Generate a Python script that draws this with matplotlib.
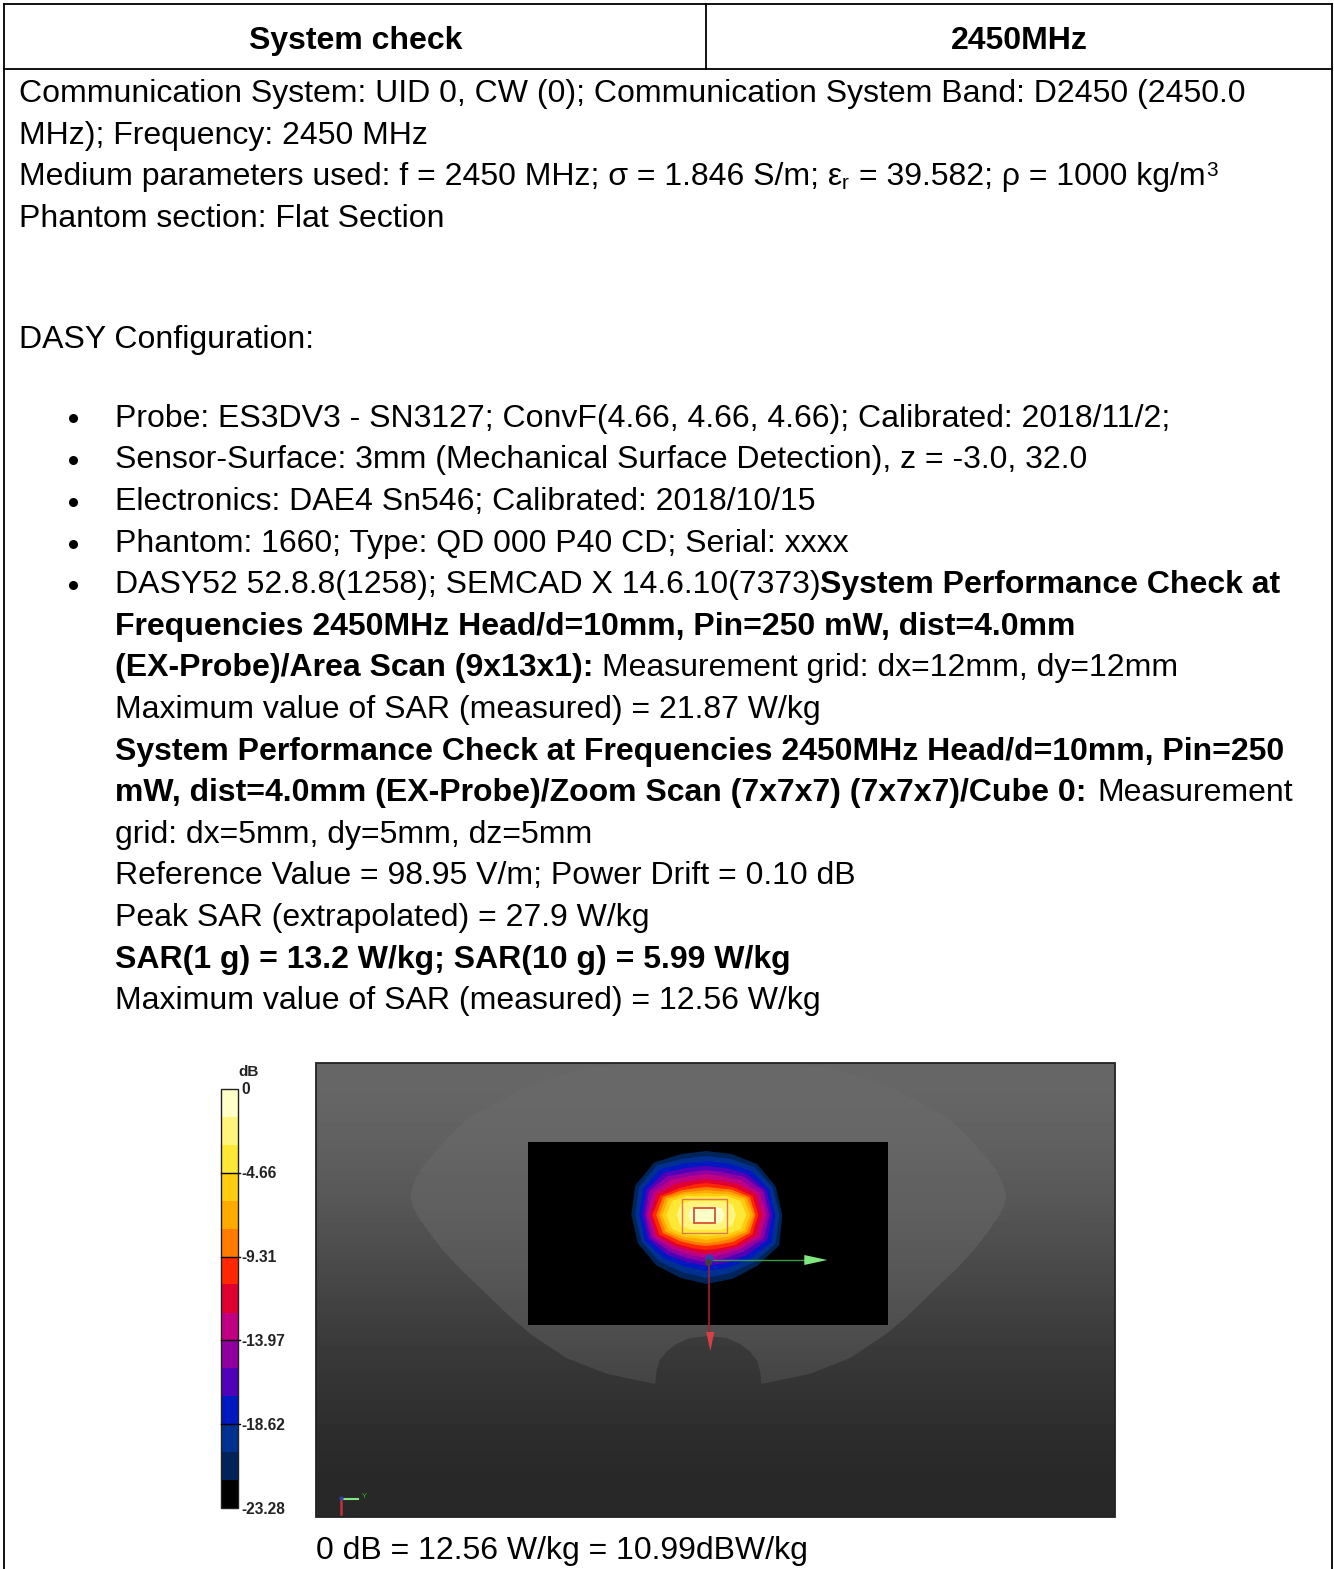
import matplotlib
matplotlib.use('Agg')
import matplotlib.pyplot as plt
import numpy as np
from matplotlib.patches import Polygon, Rectangle

W, H = 1334, 1569
FS = 23.05
plt.rcParams['font.family'] = ['Liberation Sans', 'DejaVu Sans']

# (text, x, baseline, bold)
header = [('System check', 355, 49), ('2450MHz', 1019, 49)]
body_lines = [
    ('Communication System: UID 0, CW (0); Communication System Band: D2450 (2450.0', 19, 102, False),
    ('MHz); Frequency: 2450 MHz', 19, 144, False),
    ('Medium parameters used: f = 2450 MHz; σ = 1.846 S/m; ε', 19, 185, False),
    ('= 39.582; ρ = 1000 kg/m', 859, 185, False),
    ('Phantom section: Flat Section', 19, 227, False),
    ('DASY Configuration:', 19, 348, False),
    ('Probe: ES3DV3 - SN3127; ConvF(4.66, 4.66, 4.66); Calibrated: 2018/11/2;', 115, 427, False),
    ('Sensor-Surface: 3mm (Mechanical Surface Detection), z = -3.0, 32.0', 115, 468, False),
    ('Electronics: DAE4 Sn546; Calibrated: 2018/10/15', 115, 510, False),
    ('Phantom: 1660; Type: QD 000 P40 CD; Serial: xxxx', 115, 552, False),
    ('DASY52 52.8.8(1258); SEMCAD X 14.6.10(7373)', 115, 593, False),
    ('System Performance Check at', 820, 593, True),
    ('Frequencies 2450MHz Head/d=10mm, Pin=250 mW, dist=4.0mm', 115, 635, True),
    ('(EX-Probe)/Area Scan (9x13x1):', 115, 676, True),
    ('Measurement grid: dx=12mm, dy=12mm', 602, 676, False),
    ('Maximum value of SAR (measured) = 21.87 W/kg', 115, 718, False),
    ('System Performance Check at Frequencies 2450MHz Head/d=10mm, Pin=250', 115, 760, True),
    ('mW, dist=4.0mm (EX-Probe)/Zoom Scan (7x7x7) (7x7x7)/Cube 0:', 115, 801, True),
    ('Measurement', 1097, 801, False),
    ('grid: dx=5mm, dy=5mm, dz=5mm', 115, 843, False),
    ('Reference Value = 98.95 V/m; Power Drift = 0.10 dB', 115, 884, False),
    ('Peak SAR (extrapolated) = 27.9 W/kg', 115, 926, False),
    ('SAR(1 g) = 13.2 W/kg; SAR(10 g) = 5.99 W/kg', 115, 968, True),
    ('Maximum value of SAR (measured) = 12.56 W/kg', 115, 1009, False),
    ('0 dB = 12.56 W/kg = 10.99dBW/kg', 316, 1559, False),
]
bullet_y = [417, 459, 501, 543, 584]

# colour scale, top band to bottom band
db_edges = [0, -1.55, -3.10, -4.66, -6.21, -7.76, -9.31, -10.86, -12.42, -13.97,
            -15.52, -17.07, -18.62, -20.17, -21.73, -23.28]
band_colors = ['#ffffc8', '#fff47c', '#ffe835', '#ffcc12', '#ffaa00', '#ff7c00', '#ff2800',
               '#e0002f', '#c00080', '#9000a0', '#5000b8', '#0018c0', '#003090', '#002458', '#000000']
db_ticks = [0, -4.66, -9.31, -13.97, -18.62, -23.28]
db_tick_labels = ['0', '-4.66', '-9.31', '-13.97', '-18.62', '-23.28']

# contour radius (px) of each band read at these directions, outer ring first
ring_angles = [0, 22.5, 45, 67.5, 90, 112.5, 135, 157.5, 180, 202.5, 225, 247.5, 270, 292.5, 315, 337.5]
ring_colors = band_colors[-2::-1]
ring_radii = [
    [76, 75, 72, 66, 64, 66, 74, 77, 75, 74, 71, 68, 69, 69, 72, 79],
    [73, 72, 68, 61, 59, 61, 70, 73, 71, 70, 66, 62, 63, 63, 67, 75],
    [69, 68, 63, 56, 54, 56, 65, 69, 67, 67, 61, 56, 56, 57, 62, 71],
    [66, 65, 58, 51, 49, 51, 60, 65, 64, 63, 56, 51, 51, 52, 57, 66],
    [63, 62, 54, 46, 45, 46, 55, 62, 61, 60, 52, 47, 47, 47, 52, 62],
    [60, 58, 49, 42, 41, 42, 50, 58, 59, 57, 48, 43, 43, 43, 48, 58],
    [56, 54, 44, 37, 36, 37, 44, 54, 56, 54, 44, 39, 39, 39, 45, 54],
    [52, 50, 39, 33, 32, 33, 38, 50, 54, 51, 41, 36, 35, 36, 42, 50],
    [49, 47, 36, 29, 28, 29, 35, 47, 50, 47, 37, 32, 31, 32, 38, 47],
    [47, 44, 33, 26, 25, 26, 32, 44, 47, 44, 34, 29, 28, 29, 34, 44],
    [44, 41, 30, 23, 22, 23, 30, 41, 44, 41, 31, 25, 25, 25, 31, 41],
    [40, 37, 27, 20, 19, 20, 27, 37, 40, 37, 28, 22, 21, 22, 28, 37],
    [30, 28, 20, 15, 14, 15, 20, 28, 30, 28, 21, 16, 15, 16, 21, 28],
    [18, 17, 12, 9, 9, 9, 12, 17, 18, 17, 13, 10, 9, 10, 13, 17],
]

# phantom outline, left half from the top down
phantom_left = [(708, 1062), (650, 1063), (591, 1066), (555, 1076), (520, 1090), (469, 1117), (450, 1135),
                (433, 1154), (420, 1170), (413, 1184), (410, 1197), (413, 1208), (418, 1217), (430, 1234),
                (443, 1251), (461, 1270), (479, 1287), (510, 1317), (530, 1334), (566, 1358), (607, 1374),
                (655, 1384)]
notch = [(655, 1384), (656, 1372), (659, 1361), (666, 1352), (676, 1344), (690, 1338), (708, 1336),
         (726, 1338), (740, 1344), (750, 1352), (757, 1361), (760, 1372), (761, 1384)]
bg_shade = [[0.40], [0.38], [0.35], [0.31], [0.27], [0.23], [0.20], [0.17], [0.16]]
phantom_shade = [[0.41], [0.40], [0.38], [0.36], [0.33], [0.30], [0.26], [0.22], [0.20]]

fig = plt.figure(figsize=(W / 100, H / 100), dpi=100)
ax = fig.add_axes([0, 0, 1, 1])
ax.axis('off')

# table frame
ax.plot([4, 1332], [4, 4], color='k', lw=1.3)
ax.plot([4, 1332], [69, 69], color='k', lw=1.3)
ax.plot([4, 4], [4, H], color='k', lw=1.3)
ax.plot([1332, 1332], [4, H], color='k', lw=1.3)
ax.plot([706, 706], [4, 69], color='k', lw=1.3)

for t, x, y in header:
    ax.text(x, y, t, fontsize=FS, fontweight='bold', ha='center', va='baseline')
for t, x, y, b in body_lines:
    ax.text(x, y, t, fontsize=FS, fontweight='bold' if b else 'normal', ha='left', va='baseline')
ax.text(841, 189, 'r', fontsize=FS * 0.65, va='baseline')
ax.text(1206, 176, '3', fontsize=FS * 0.65, va='baseline')
for y in bullet_y:
    ax.plot([73], [y + 1], 'o', color='k', ms=6.5, mec='none')


def db_y(v):
    return 1089 + (0 - v) / 23.28 * (1508 - 1089)


# colour scale
for i, c in enumerate(band_colors):
    y0, y1 = db_y(db_edges[i]), db_y(db_edges[i + 1])
    ax.add_patch(Rectangle((220.5, y0), 17, y1 - y0, fc=c, ec='none'))
ax.add_patch(Rectangle((220.5, 1089), 17, 419, fc='none', ec='#222222', lw=1))
for v, lab in zip(db_ticks, db_tick_labels):
    y = db_y(v)
    if v not in (0, -23.28):
        ax.plot([220.5, 240], [y, y], color='k', lw=1)
    ax.text(241, y + 1, lab, fontsize=11.2, fontweight='bold', color='#222222', ha='left', va='center')
ax.text(238, 1072, 'dB', fontsize=11, fontweight='bold', color='#222222', ha='left', va='center')

# viewer background
ax.imshow(np.array(bg_shade), extent=(316, 1115, 1517, 1063), cmap='gray', vmin=0, vmax=1, aspect='auto',
          interpolation='bilinear', zorder=1)

right = [(2 * 708 - x, y) for x, y in phantom_left[::-1]]
outline = phantom_left + notch[1:] + right[1:]
shape = Polygon(outline, closed=True, transform=ax.transData, fc='none', ec='none')
ax.add_patch(shape)
ph = ax.imshow(np.array(phantom_shade), extent=(316, 1115, 1517, 1063), cmap='gray', vmin=0, vmax=1, aspect='auto',
               interpolation='bilinear', zorder=2)
ph.set_clip_path(shape)
ax.add_patch(Rectangle((316, 1063), 799, 454, fc='none', ec='#222222', lw=1.3, zorder=3))
ax.set_xlim(-0.3, W - 0.3)
ax.set_ylim(H, 0)

ax.add_patch(Rectangle((528, 1142), 360, 183, fc='k', ec='none', zorder=3))

# field contours
a = np.deg2rad(ring_angles)
for r, c in zip(ring_radii, ring_colors):
    r = np.array(r)
    pts = np.column_stack([706 + r * np.cos(a), 1215 - r * np.sin(a)])
    ax.add_patch(Polygon(pts, closed=True, fc=c, ec='none', zorder=4))

# zoom scan boxes
ax.add_patch(Rectangle((682, 1199), 45, 34, fc='none', ec='#e07850', lw=1, zorder=5))
ax.add_patch(Rectangle((694, 1208), 21, 15, fc='none', ec='#d85030', lw=1.3, zorder=5))

# axes triad
ax.plot([708, 805], [1260, 1260], color='#3a9a4a', lw=1, zorder=5)
ax.add_patch(Polygon([(804, 1255), (827, 1260), (804, 1265)], fc='#80e880', ec='none', zorder=5))
ax.plot([709, 709], [1260, 1333], color='#a02030', lw=1.2, zorder=5)
ax.add_patch(Polygon([(706, 1332), (714, 1332), (710, 1351)], fc='#d84048', ec='none', zorder=6))
ax.plot([709], [1258], 'o', color='#3040b0', ms=6, mec='none', zorder=6)
ax.plot([708], [1262], 'o', color='#404040', ms=5, mec='none', zorder=6)

ax.plot([341, 358], [1499, 1499], color='#80e880', lw=1.5, zorder=5)
ax.plot([341, 341], [1499, 1514], color='#c03040', lw=1.8, zorder=5)
ax.plot([341], [1498], 'o', color='#3040b0', ms=3, mec='none', zorder=6)
ax.text(362, 1497, 'Y', fontsize=5.5, color='#20c020', ha='left', va='center', zorder=6)

fig.savefig('out.png', dpi=100)
